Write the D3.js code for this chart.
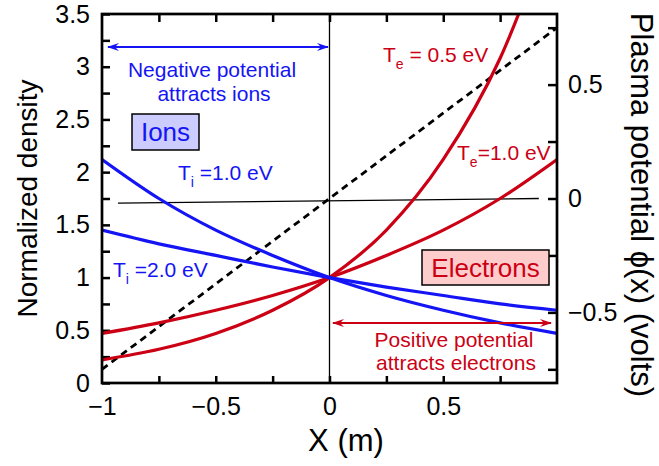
<!DOCTYPE html>
<html>
<head>
<meta charset="utf-8">
<script src="https://cdn.jsdelivr.net/npm/d3@7"></script>
<style>
	body { margin: 0; background: #fff; }
	svg { font-family: "Liberation Sans", Arial, sans-serif; }
</style>
</head>
<body>
<svg id="chart" width="659" height="466"></svg>
<script>
"use strict";

// positions along x (m)
var xs = [-1, -0.75, -0.5, -0.25, 0, 0.25, 0.5, 0.75, 1];

// normalized densities
var ionTi1 = [2.12, 1.75, 1.45, 1.21, 1.00, 0.83, 0.69, 0.57, 0.47];
var ionTi2 = [1.45, 1.32, 1.21, 1.10, 1.00, 0.91, 0.83, 0.75, 0.69];
var elecTe1 = [0.47, 0.57, 0.69, 0.83, 1.00, 1.21, 1.45, 1.75, 2.12];
var elecTe05 = [0.22, 0.32, 0.47, 0.69, 1.00, 1.45, 2.12, 3.08, 4.48];

// plasma potential (dashed) and the thin zero line, in volts
var potX = [-1, 1];
var potV = [-0.75, 0.75];
var zeroX = [-0.93, 0.92];
var zeroV = [-0.02, 0.0];

// tick labels
var densityTicks = [0, 0.5, 1, 1.5, 2, 2.5, 3, 3.5];
var xTicks = [-1, -0.5, 0, 0.5];
var voltTicks = [-0.5, 0, 0.5];

var RED = '#cc0014';
var BLUE = '#1414f5';

var margin = {top: 14, right: 102, bottom: 83, left: 102};
var width = 659 - margin.left - margin.right;
var height = 466 - margin.top - margin.bottom;

var svg = d3.select('#chart');
var g = svg.append('g')
	.attr('transform', 'translate(' + margin.left + ',' + margin.top + ')');

var x = d3.scaleLinear().domain([-1, 1]).range([0, width]);
var y = d3.scaleLinear().domain([0, 3.5]).range([height, 0]);
var yv = d3.scaleLinear().domain([-0.81, 0.81]).range([height, 0]);

var quarter = function(lo, hi) {
	return d3.range(Math.round(lo * 4), Math.round(hi * 4) + 1).map(function(i) { return i / 4; });
};
var labelIf = function(list) {
	return function(d) {
		var hit = list.some(function(v) { return Math.abs(v - d) < 1e-6; });
		return hit ? d3.format('')(d) : '';
	};
};

g.append('defs').append('clipPath').attr('id', 'plot')
	.append('rect').attr('width', width).attr('height', height);

//axes, ticks pointing inward
var styleAxis = function(sel) {
	sel.select('.domain').remove();
	sel.selectAll('.tick line').attr('stroke', '#000').attr('stroke-width', 2.5);
	sel.selectAll('.tick text').attr('fill', '#000').style('font-size', '25px');
};

g.append('g')
	.call(d3.axisLeft(y).tickValues(quarter(0, 3.5)).tickSize(-8).tickPadding(12)
		.tickFormat(labelIf(densityTicks)))
	.call(styleAxis);

g.append('g')
	.attr('transform', 'translate(0,' + height + ')')
	.call(d3.axisBottom(x).tickValues(quarter(-0.75, 0.75)).tickSize(-7).tickPadding(14)
		.tickFormat(labelIf(xTicks)))
	.call(styleAxis);

// -1 label sits at the corner
g.append('g')
	.attr('transform', 'translate(0,' + height + ')')
	.call(d3.axisBottom(x).tickValues([-1]).tickSize(0).tickPadding(14)
		.tickFormat(labelIf(xTicks)))
	.call(styleAxis);

g.append('g')
	.call(d3.axisTop(x).tickValues(quarter(-0.75, 0.75)).tickSize(-8).tickFormat(''))
	.call(styleAxis);

g.append('g')
	.attr('transform', 'translate(' + width + ',0)')
	.call(d3.axisRight(yv).tickValues(quarter(-0.75, 0.75)).tickSize(-9).tickPadding(11)
		.tickFormat(labelIf(voltTicks)))
	.call(styleAxis);

//axis titles
svg.append('text')
	.attr('transform', 'translate(37,' + (margin.top + height / 2) + ') rotate(-90)')
	.attr('text-anchor', 'middle')
	.style('font-size', '28px')
	.text('Normalized density');

svg.append('text')
	.attr('x', 346).attr('y', 451)
	.attr('text-anchor', 'middle')
	.style('font-size', '31px')
	.text('X (m)');

svg.append('text')
	.attr('transform', 'translate(631,205) rotate(90)')
	.attr('text-anchor', 'middle')
	.style('font-size', '31px')
	.text('Plasma potential \u03d5(x) (volts)');

//reference lines
var plot = g.append('g').attr('clip-path', 'url(#plot)');

plot.append('line')
	.attr('x1', x(0)).attr('x2', x(0))
	.attr('y1', 0).attr('y2', height)
	.attr('stroke', '#000').attr('stroke-width', 1.3);

var vline = d3.line()
	.x(function(d) { return x(d[0]); })
	.y(function(d) { return yv(d[1]); });

plot.append('path')
	.datum(d3.zip(zeroX, zeroV))
	.attr('d', vline)
	.attr('fill', 'none').attr('stroke', '#000').attr('stroke-width', 1.3);

plot.append('path')
	.datum(d3.zip(potX, potV))
	.attr('d', vline)
	.attr('fill', 'none').attr('stroke', '#000')
	.attr('stroke-width', 2.8).attr('stroke-dasharray', '7,5');

//density curves
var nline = d3.line()
	.curve(d3.curveMonotoneX)
	.x(function(d) { return x(d[0]); })
	.y(function(d) { return y(d[1]); });

var series = [
	{values: elecTe05, color: RED},
	{values: elecTe1, color: RED},
	{values: ionTi2, color: BLUE},
	{values: ionTi1, color: BLUE}
];

series.forEach(function(s) {
	plot.append('path')
		.datum(d3.zip(xs, s.values))
		.attr('d', nline)
		.attr('fill', 'none')
		.attr('stroke', s.color)
		.attr('stroke-width', 3.2);
});

g.append('rect')
	.attr('width', width).attr('height', height)
	.attr('fill', 'none').attr('stroke', '#000').attr('stroke-width', 2.7);

//double arrows
var defs = svg.append('defs');
[['blue', BLUE], ['red', RED]].forEach(function(c) {
	defs.append('marker')
		.attr('id', 'arrow-' + c[0])
		.attr('viewBox', '0 0 12 10')
		.attr('refX', 11).attr('refY', 5)
		.attr('markerWidth', 12).attr('markerHeight', 10)
		.attr('markerUnits', 'userSpaceOnUse')
		.attr('orient', 'auto-start-reverse')
		.append('path')
		.attr('d', 'M0,1 L12,5 L0,9 L4,5 Z')
		.attr('fill', c[1]);
});

svg.append('line')
	.attr('x1', 108).attr('x2', 328).attr('y1', 47).attr('y2', 47)
	.attr('stroke', BLUE).attr('stroke-width', 1.8)
	.attr('marker-start', 'url(#arrow-blue)').attr('marker-end', 'url(#arrow-blue)');

svg.append('line')
	.attr('x1', 333).attr('x2', 551).attr('y1', 323).attr('y2', 323)
	.attr('stroke', RED).attr('stroke-width', 1.8)
	.attr('marker-start', 'url(#arrow-red)').attr('marker-end', 'url(#arrow-red)');

//annotations
var note = function(txt, px, py, color) {
	svg.append('text')
		.attr('x', px).attr('y', py)
		.attr('text-anchor', 'middle')
		.attr('fill', color)
		.style('font-size', '21px')
		.text(txt);
};
note('Negative potential', 212, 77, BLUE);
note('attracts ions', 214, 101, BLUE);
note('Positive potential', 454, 347, RED);
note('attracts electrons', 456, 370, RED);

var tempLabel = function(sub, rest, px, py, color) {
	var t = svg.append('text')
		.attr('x', px).attr('y', py)
		.attr('fill', color)
		.style('font-size', '21px');
	t.append('tspan').text('T');
	t.append('tspan').attr('dy', 7).style('font-size', '14px').text(sub);
	t.append('tspan').attr('dy', -7).text(rest);
};
tempLabel('i', ' =1.0 eV', 178, 180, BLUE);
tempLabel('i', ' =2.0 eV', 113, 277, BLUE);
tempLabel('e', ' = 0.5 eV', 383, 62, RED);
tempLabel('e', '=1.0 eV', 457, 160, RED);

//boxed labels
var boxLabel = function(txt, bx, by, bw, bh, fill, color) {
	svg.append('rect')
		.attr('x', bx).attr('y', by).attr('width', bw).attr('height', bh)
		.attr('fill', fill).attr('stroke', '#000').attr('stroke-width', 1.5);
	svg.append('text')
		.attr('x', bx + bw / 2).attr('y', by + bh / 2 + 9)
		.attr('text-anchor', 'middle')
		.attr('fill', color)
		.style('font-size', '26px')
		.text(txt);
};
boxLabel('Ions', 132, 114, 67, 36, '#ccccff', BLUE);
boxLabel('Electrons', 422, 250, 127, 35, '#ffcccc', RED);
</script>
</body>
</html>
